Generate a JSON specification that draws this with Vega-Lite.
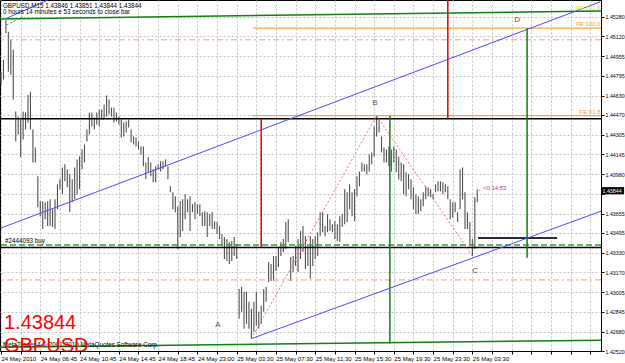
{
  "$schema": "https://vega.github.io/schema/vega-lite/v6.json",
  "width": 601,
  "height": 351,
  "autosize": "none",
  "padding": {"left": 0, "top": 0, "right": 24, "bottom": 12},
  "background": "white",
  "config": {"view": {"stroke": "black", "strokeWidth": 1}, "font": "Liberation Sans", "axis": {"labelOverlap": false, "labelBound": false, "labelFlush": false}},
  "datasets": {
    "bars": [
      {"i":0,"h":1.44827,"l":1.44720},{"i":1,"h":1.44926,"l":1.44762},{"i":2,"h":1.45255,"l":1.45148},{"i":3,"h":1.45157,"l":1.44827},{"i":4,"h":1.45091,"l":1.44803},{"i":5,"h":1.45008,"l":1.44597},{"i":6,"h":1.44498,"l":1.44251},{"i":7,"h":1.44457,"l":1.44309},{"i":8,"h":1.44432,"l":1.44120},{"i":9,"h":1.44498,"l":1.44268},
      {"i":10,"h":1.44490,"l":1.44350},{"i":11,"h":1.44638,"l":1.44408},{"i":12,"h":1.44663,"l":1.44350},{"i":13,"h":1.44350,"l":1.44078},{"i":14,"h":1.44202,"l":1.44078},{"i":15,"h":1.43963,"l":1.43708},{"i":16,"h":1.43758,"l":1.43634},{"i":17,"h":1.43758,"l":1.43527},{"i":18,"h":1.43749,"l":1.43609},{"i":19,"h":1.43758,"l":1.43552},
      {"i":20,"h":1.43774,"l":1.43552},{"i":21,"h":1.43692,"l":1.43544},{"i":22,"h":1.43774,"l":1.43527},{"i":23,"h":1.43897,"l":1.43692},{"i":24,"h":1.43939,"l":1.43856},{"i":25,"h":1.44037,"l":1.43815},{"i":26,"h":1.44062,"l":1.43922},{"i":27,"h":1.44021,"l":1.43873},{"i":28,"h":1.43980,"l":1.43667},{"i":29,"h":1.43939,"l":1.43749},
      {"i":30,"h":1.44037,"l":1.43774},{"i":31,"h":1.44103,"l":1.43815},{"i":32,"h":1.44128,"l":1.43856},{"i":33,"h":1.44185,"l":1.44021},{"i":34,"h":1.44227,"l":1.44078},{"i":35,"h":1.44350,"l":1.44251},{"i":36,"h":1.44490,"l":1.44309},{"i":37,"h":1.44490,"l":1.44375},{"i":38,"h":1.44449,"l":1.44350},{"i":39,"h":1.44490,"l":1.44391},
      {"i":40,"h":1.44515,"l":1.44375},{"i":41,"h":1.44515,"l":1.44432},{"i":42,"h":1.44556,"l":1.44432},{"i":43,"h":1.44630,"l":1.44457},{"i":44,"h":1.44597,"l":1.44474},{"i":45,"h":1.44531,"l":1.44457},{"i":46,"h":1.44531,"l":1.44408},{"i":47,"h":1.44490,"l":1.44416},{"i":48,"h":1.44457,"l":1.44391},{"i":49,"h":1.44432,"l":1.44284},
      {"i":50,"h":1.44408,"l":1.44292},{"i":51,"h":1.44416,"l":1.44325},{"i":52,"h":1.44432,"l":1.44367},{"i":53,"h":1.44350,"l":1.44243},{"i":54,"h":1.44292,"l":1.44227},{"i":55,"h":1.44284,"l":1.44210},{"i":56,"h":1.44251,"l":1.44185},{"i":57,"h":1.44210,"l":1.44144},{"i":58,"h":1.44210,"l":1.44046},{"i":59,"h":1.44078,"l":1.43939},
      {"i":60,"h":1.44120,"l":1.43996},{"i":61,"h":1.44078,"l":1.43963},{"i":62,"h":1.44021,"l":1.43914},{"i":63,"h":1.44046,"l":1.43914},{"i":64,"h":1.44062,"l":1.44021},{"i":65,"h":1.44087,"l":1.44004},{"i":66,"h":1.44087,"l":1.44021},{"i":67,"h":1.44103,"l":1.44046},{"i":68,"h":1.44046,"l":1.43939},{"i":69,"h":1.43881,"l":1.43832},
      {"i":70,"h":1.43832,"l":1.43692},{"i":71,"h":1.43799,"l":1.43667},{"i":72,"h":1.43716,"l":1.43362},{"i":73,"h":1.43758,"l":1.43461},{"i":74,"h":1.43774,"l":1.43511},{"i":75,"h":1.43815,"l":1.43609},{"i":76,"h":1.43774,"l":1.43667},{"i":77,"h":1.43799,"l":1.43511},{"i":78,"h":1.43733,"l":1.43667},{"i":79,"h":1.43749,"l":1.43609},
      {"i":80,"h":1.43733,"l":1.43651},{"i":81,"h":1.43733,"l":1.43634},{"i":82,"h":1.43667,"l":1.43552},{"i":83,"h":1.43675,"l":1.43552},{"i":84,"h":1.43667,"l":1.43461},{"i":85,"h":1.43651,"l":1.43552},{"i":86,"h":1.43667,"l":1.43527},{"i":87,"h":1.43593,"l":1.43527},{"i":88,"h":1.43585,"l":1.43486},{"i":89,"h":1.43552,"l":1.43445},
      {"i":90,"h":1.43486,"l":1.43387},{"i":91,"h":1.43461,"l":1.43280},{"i":92,"h":1.43445,"l":1.43264},{"i":93,"h":1.43420,"l":1.43239},{"i":94,"h":1.43428,"l":1.43264},{"i":95,"h":1.43461,"l":1.43305},{"i":96,"h":1.43404,"l":1.43280},{"i":97,"h":1.43033,"l":1.42786},{"i":98,"h":1.43050,"l":1.42844},{"i":99,"h":1.43009,"l":1.42704},
      {"i":100,"h":1.43009,"l":1.42745},{"i":101,"h":1.42926,"l":1.42704},{"i":102,"h":1.42869,"l":1.42622},{"i":103,"h":1.42926,"l":1.42679},{"i":104,"h":1.43009,"l":1.42729},{"i":105,"h":1.42844,"l":1.42704},{"i":106,"h":1.42893,"l":1.42745},{"i":107,"h":1.43033,"l":1.42844},{"i":108,"h":1.43050,"l":1.42926},{"i":109,"h":1.43256,"l":1.43091},
      {"i":110,"h":1.43239,"l":1.43099},{"i":111,"h":1.43305,"l":1.43099},{"i":112,"h":1.43305,"l":1.43181},{"i":113,"h":1.43379,"l":1.43214},{"i":114,"h":1.43420,"l":1.43305},{"i":115,"h":1.43445,"l":1.43338},{"i":116,"h":1.43585,"l":1.43362},{"i":117,"h":1.43609,"l":1.43420},{"i":118,"h":1.43297,"l":1.43099},{"i":119,"h":1.43305,"l":1.43173},
      {"i":120,"h":1.43387,"l":1.43223},{"i":121,"h":1.43445,"l":1.43173},{"i":122,"h":1.43511,"l":1.43280},{"i":123,"h":1.43552,"l":1.43338},{"i":124,"h":1.43469,"l":1.43198},{"i":125,"h":1.43387,"l":1.43223},{"i":126,"h":1.43469,"l":1.43116},{"i":127,"h":1.43445,"l":1.43223},{"i":128,"h":1.43469,"l":1.43280},{"i":129,"h":1.43502,"l":1.43305},
      {"i":130,"h":1.43667,"l":1.43469},{"i":131,"h":1.43667,"l":1.43502},{"i":132,"h":1.43552,"l":1.43469},{"i":133,"h":1.43651,"l":1.43502},{"i":134,"h":1.43609,"l":1.43511},{"i":135,"h":1.43568,"l":1.43502},{"i":136,"h":1.43593,"l":1.43445},{"i":137,"h":1.43568,"l":1.43428},{"i":138,"h":1.43634,"l":1.43420},{"i":139,"h":1.43651,"l":1.43544},
      {"i":140,"h":1.43856,"l":1.43568},{"i":141,"h":1.43832,"l":1.43585},{"i":142,"h":1.43897,"l":1.43692},{"i":143,"h":1.43832,"l":1.43634},{"i":144,"h":1.43856,"l":1.43593},{"i":145,"h":1.43963,"l":1.43799},{"i":146,"h":1.44004,"l":1.43881},{"i":147,"h":1.44078,"l":1.44004},{"i":148,"h":1.44062,"l":1.44004},{"i":149,"h":1.44062,"l":1.43980},
      {"i":150,"h":1.44144,"l":1.44004},{"i":151,"h":1.44161,"l":1.44062},{"i":152,"h":1.44375,"l":1.44128},{"i":153,"h":1.44465,"l":1.44292},{"i":154,"h":1.44432,"l":1.44325},{"i":155,"h":1.44292,"l":1.44161},{"i":156,"h":1.44202,"l":1.44078},{"i":157,"h":1.44185,"l":1.44078},{"i":158,"h":1.44210,"l":1.44046},{"i":159,"h":1.44185,"l":1.44004},
      {"i":160,"h":1.44210,"l":1.44078},{"i":161,"h":1.44185,"l":1.43996},{"i":162,"h":1.44128,"l":1.43939},{"i":163,"h":1.44078,"l":1.43922},{"i":164,"h":1.44062,"l":1.43815},{"i":165,"h":1.43996,"l":1.43799},{"i":166,"h":1.43980,"l":1.43856},{"i":167,"h":1.43939,"l":1.43774},{"i":168,"h":1.43873,"l":1.43692},{"i":169,"h":1.43815,"l":1.43651},
      {"i":170,"h":1.43799,"l":1.43651},{"i":171,"h":1.43774,"l":1.43675},{"i":172,"h":1.43832,"l":1.43716},{"i":173,"h":1.43881,"l":1.43774},{"i":174,"h":1.43873,"l":1.43799},{"i":175,"h":1.43856,"l":1.43790},{"i":176,"h":1.43815,"l":1.43774},{"i":177,"h":1.43897,"l":1.43832},{"i":178,"h":1.43922,"l":1.43840},{"i":179,"h":1.43922,"l":1.43840},
      {"i":180,"h":1.43914,"l":1.43815},{"i":181,"h":1.43897,"l":1.43832},{"i":182,"h":1.43881,"l":1.43774},{"i":183,"h":1.43774,"l":1.43609},{"i":184,"h":1.43749,"l":1.43626},{"i":185,"h":1.43749,"l":1.43667},{"i":186,"h":1.43667,"l":1.43585},{"i":187,"h":1.44021,"l":1.43692},{"i":188,"h":1.44037,"l":1.43774},{"i":189,"h":1.43832,"l":1.43527},
      {"i":190,"h":1.43667,"l":1.43527},{"i":191,"h":1.43585,"l":1.43387},{"i":192,"h":1.43445,"l":1.43305},{"i":193,"h":1.43790,"l":1.43362},{"i":194,"h":1.43856,"l":1.43749},{"i":195,"h":1.43851,"l":1.43844}
    ]
  },
  "layer": [
    {
      "data": {"name": "bars"},
      "mark": {"type": "rule", "color": "#505050", "strokeWidth": 1.1},
      "encoding": {
        "x": {"field": "i", "type": "quantitative",
          "scale": {"domain": [-0.41, 244.4], "nice": false, "zero": false},
          "axis": {"orient": "bottom", "title": null, "tickCount": 200,
            "values": [0,8,16,24,32,40,48,56,64,72,80,88,96,104,112,120,128,136,144,152,160,168,176,184,192,200,208,216,224,232,240],
            "labelExpr": "(datum.value % 16 == 0 && datum.value <= 192) ? ['24 May 2010','24 May 06:45','24 May 10:45','24 May 14:45','24 May 18:45','24 May 23:00','25 May 03:30','25 May 07:30','25 May 11:30','25 May 15:30','25 May 19:30','25 May 23:30','26 May 03:30'][datum.value / 16] : ''",
            "grid": true, "gridDash": [2, 2], "gridColor": "#c4c4c4", "gridWidth": 1,
            "domainColor": "black", "tickColor": "black", "tickSize": 3,
            "labelFontSize": 6, "labelColor": "black", "labelAlign": "left", "labelPadding": 1,
            "labelFlush": false, "labelOverlap": false, "labelBound": false}},
        "y": {"field": "l", "type": "quantitative",
          "scale": {"domain": [1.4252, 1.4542], "nice": false, "zero": false},
          "axis": {"orient": "right", "title": null, "tickCount": 200,
            "values": [1.4528,1.4512,1.44955,1.44795,1.4463,1.4447,1.44305,1.44145,1.4398,1.4382,1.43655,1.43495,1.4333,1.4317,1.43005,1.42845,1.4268,1.4252],
            "format": ".5f",
            "labelExpr": "abs(datum.value - 1.4382) < 0.00001 ? '' : datum.label",
            "grid": true, "gridDash": [2, 2], "gridColor": "#c4c4c4", "gridWidth": 1,
            "domainColor": "black", "tickColor": "black", "tickSize": 3,
            "labelFontSize": 5.3, "labelColor": "black", "labelPadding": 1,
            "labelFlush": false, "labelOverlap": false, "labelBound": false}},
        "y2": {"field": "h"}
      }
    },
    {
      "data": {"values": [{"p": 1.45091}, {"p": 1.43107}]},
      "mark": {"type": "rule", "color": "#f4a070", "strokeWidth": 1, "strokeDash": [6, 3, 2, 3]},
      "encoding": {"y": {"field": "p", "type": "quantitative"}}
    },
    {
      "data": {"values": [{"p": 1.43395}]},
      "mark": {"type": "rule", "color": "#3a9a3a", "strokeWidth": 1.5, "strokeDash": [6, 3]},
      "encoding": {"y": {"field": "p", "type": "quantitative"}}
    },
    {
      "data": {"values": [{"p": 1.44438}, {"p": 1.43376}]},
      "mark": {"type": "rule", "color": "black", "strokeWidth": 1.5},
      "encoding": {"y": {"field": "p", "type": "quantitative"}}
    },
    {
      "data": {"values": [{"i": 102.65, "i2": 244.4, "p": 1.44465}, {"i": 102.65, "i2": 244.4, "p": 1.45187}]},
      "mark": {"type": "rule", "color": "#ffa040", "strokeWidth": 1.2},
      "encoding": {"x": {"field": "i", "type": "quantitative"}, "x2": {"field": "i2"}, "y": {"field": "p", "type": "quantitative"}}
    },
    {
      "data": {"values": [{"i": 194.3, "i2": 226.5, "p": 1.43453}]},
      "mark": {"type": "rule", "color": "#2a2a3a", "strokeWidth": 2},
      "encoding": {"x": {"field": "i", "type": "quantitative"}, "x2": {"field": "i2"}, "y": {"field": "p", "type": "quantitative"}}
    },
    {
      "data": {"values": [{"i": 106, "p": 1.44438, "p2": 1.43376}, {"i": 182, "p": 1.4542, "p2": 1.44438}]},
      "mark": {"type": "rule", "color": "#e00000", "strokeWidth": 1.5},
      "encoding": {"x": {"field": "i", "type": "quantitative"}, "y": {"field": "p", "type": "quantitative"}, "y2": {"field": "p2"}}
    },
    {
      "data": {"values": [{"i": 158.4, "p": 1.44465, "p2": 1.42581}, {"i": 214.3, "p": 1.45187, "p2": 1.43291}]},
      "mark": {"type": "rule", "color": "#108010", "strokeWidth": 1.5},
      "encoding": {"x": {"field": "i", "type": "quantitative"}, "y": {"field": "p", "type": "quantitative"}, "y2": {"field": "p2"}}
    },
    {
      "data": {"values": [
        {"i": -0.41, "p": 1.45264, "i2": 244.4, "p2": 1.45329},
        {"i": -0.41, "p": 1.42552, "i2": 244.4, "p2": 1.42609}
      ]},
      "mark": {"type": "rule", "color": "#108010", "strokeWidth": 1.5, "clip": true},
      "encoding": {"x": {"field": "i", "type": "quantitative"}, "x2": {"field": "i2"}, "y": {"field": "p", "type": "quantitative"}, "y2": {"field": "p2"}}
    },
    {
      "data": {"values": [{"i": 2.3, "p": 1.45214, "i2": 9.0, "p2": 1.45283}]},
      "mark": {"type": "rule", "color": "#40a040", "strokeWidth": 1, "strokeDash": [2, 2], "clip": true},
      "encoding": {"x": {"field": "i", "type": "quantitative"}, "x2": {"field": "i2"}, "y": {"field": "p", "type": "quantitative"}, "y2": {"field": "p2"}}
    },
    {
      "data": {"values": [
        {"i": 0, "p": 1.43536, "i2": 244, "p2": 1.45404},
        {"i": 102, "p": 1.42622, "i2": 244.4, "p2": 1.43675},
        {"i": 2.3, "p": 1.45269, "i2": 19.1, "p2": 1.4542}
      ]},
      "mark": {"type": "rule", "color": "#4a4aff", "strokeWidth": 1, "clip": true},
      "encoding": {"x": {"field": "i", "type": "quantitative"}, "x2": {"field": "i2"}, "y": {"field": "p", "type": "quantitative"}, "y2": {"field": "p2"}}
    },
    {
      "data": {"values": [
        {"i": 102, "p": 1.42622, "i2": 153, "p2": 1.44465},
        {"i": 153, "p": 1.44465, "i2": 192, "p2": 1.43305}
      ]},
      "mark": {"type": "rule", "color": "#f07070", "strokeWidth": 1, "strokeDash": [2, 2]},
      "encoding": {"x": {"field": "i", "type": "quantitative"}, "x2": {"field": "i2"}, "y": {"field": "p", "type": "quantitative"}, "y2": {"field": "p2"}}
    },
    {
      "data": {"values": [
        {"i": 0.8, "p": 1.45358, "label": "GBPUSD,M15  1.43846 1.43851 1.43844 1.43844"},
        {"i": 0.8, "p": 1.45305, "label": "0 hours 14 minutes e 53 seconds to close bar"},
        {"i": 1.63, "p": 1.43412, "label": "#2444093 buy"},
        {"i": 0.8, "p": 1.42556, "label": "MetaTrader 4 © 2001-2010 MetaQuotes Software Corp."}
      ]},
      "mark": {"type": "text", "align": "left", "baseline": "alphabetic", "fontSize": 6.3, "color": "black"},
      "encoding": {"x": {"field": "i", "type": "quantitative"}, "y": {"field": "p", "type": "quantitative"}, "text": {"field": "label"}}
    },
    {
      "data": {"values": [{"i": 1.2, "p": 1.42704, "label": "1.43844"}]},
      "mark": {"type": "text", "align": "left", "baseline": "alphabetic", "fontSize": 20, "color": "#ff0000"},
      "encoding": {"x": {"field": "i", "type": "quantitative"}, "y": {"field": "p", "type": "quantitative"}, "text": {"field": "label"}}
    },
    {
      "data": {"values": [{"i": 1.2, "p": 1.4251, "label": "GBPUSD"}]},
      "mark": {"type": "text", "align": "left", "baseline": "alphabetic", "fontSize": 20, "color": "#ff0000", "clip": true},
      "encoding": {"x": {"field": "i", "type": "quantitative"}, "y": {"field": "p", "type": "quantitative"}, "text": {"field": "label"}}
    },
    {
      "data": {"values": [
        {"i": 88.4, "p": 1.42737, "label": "A"},
        {"i": 152.3, "p": 1.44572, "label": "B"},
        {"i": 193.1, "p": 1.43182, "label": "C"},
        {"i": 210.2, "p": 1.45255, "label": "D"}
      ]},
      "mark": {"type": "text", "align": "center", "baseline": "middle", "fontSize": 8, "color": "#555555"},
      "encoding": {"x": {"field": "i", "type": "quantitative"}, "y": {"field": "p", "type": "quantitative"}, "text": {"field": "label"}}
    },
    {
      "data": {"values": [{"i": 196.3, "p": 1.43864, "label": "<0:14:53"}]},
      "mark": {"type": "text", "align": "left", "baseline": "middle", "fontSize": 6, "color": "#a040a0"},
      "encoding": {"x": {"field": "i", "type": "quantitative"}, "y": {"field": "p", "type": "quantitative"}, "text": {"field": "label"}}
    },
    {
      "data": {"values": [
        {"i": 244.2, "p": 1.44482, "label": "FE 61.8"},
        {"i": 244.2, "p": 1.45206, "label": "FE 100.0"}
      ]},
      "mark": {"type": "text", "align": "right", "baseline": "alphabetic", "fontSize": 6, "color": "#ff9933"},
      "encoding": {"x": {"field": "i", "type": "quantitative"}, "y": {"field": "p", "type": "quantitative"}, "text": {"field": "label"}}
    },
    {
      "data": {"values": [{"i": 244.2, "p": 1.45340, "label": "FE 161.8"}]},
      "mark": {"type": "text", "align": "right", "baseline": "alphabetic", "fontSize": 6, "color": "#e0e020"},
      "encoding": {"x": {"field": "i", "type": "quantitative"}, "y": {"field": "p", "type": "quantitative"}, "text": {"field": "label"}}
    },
    {
      "data": {"values": [{"i": 244.6, "i2": 253.8, "p": 1.43874, "p2": 1.43814}]},
      "mark": {"type": "rect", "color": "black"},
      "encoding": {"x": {"field": "i", "type": "quantitative"}, "x2": {"field": "i2"}, "y": {"field": "p", "type": "quantitative"}, "y2": {"field": "p2"}}
    },
    {
      "data": {"values": [{"i": 245.0, "p": 1.43844, "label": "1.43844"}]},
      "mark": {"type": "text", "align": "left", "baseline": "middle", "fontSize": 5.3, "color": "white"},
      "encoding": {"x": {"field": "i", "type": "quantitative"}, "y": {"field": "p", "type": "quantitative"}, "text": {"field": "label"}}
    }
  ]
}
